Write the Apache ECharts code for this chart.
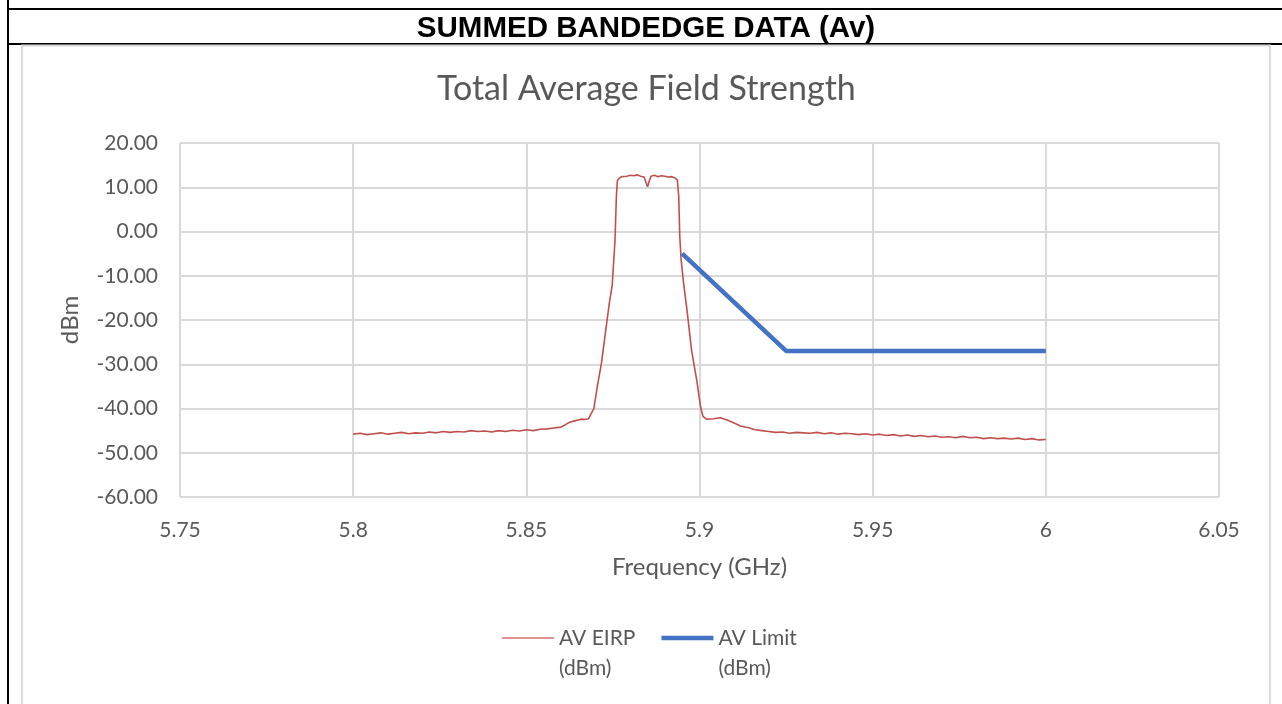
<!DOCTYPE html>
<html>
<head>
<meta charset="utf-8">
<script src="https://cdn.jsdelivr.net/npm/echarts@6/dist/echarts.min.js"></script>
<style>
html,body{margin:0;padding:0;background:#fff;}
#chart{width:1282px;height:704px;}
</style>
</head>
<body>
<div id="chart"></div>
<script>
// ---- data ----
const headerText = 'SUMMED BANDEDGE DATA (Av)';
const titleText = 'Total Average Field Strength';
const xTicks = [5.75, 5.8, 5.85, 5.9, 5.95, 6, 6.05];
const yTicks = [-60, -50, -40, -30, -20, -10, 0, 10, 20];
const seriesNames = ['AV EIRP\n(dBm)', 'AV Limit\n(dBm)'];

const eirpFreq = [
  5.800,5.802,5.804,5.806,5.808,5.810,5.812,5.814,5.816,5.818,
  5.820,5.822,5.824,5.826,5.828,5.830,5.832,5.834,5.836,5.838,
  5.840,5.842,5.844,5.846,5.848,5.850,5.852,5.854,5.856,5.858,
  5.860,5.861,5.862,5.863,5.864,5.865,5.866,5.867,5.868,5.8685,
  5.8688,5.8695,5.8705,5.8717,5.8732,5.8740,5.8748,5.8756,5.8760,5.8763,
  5.8768,5.8775,5.8780,5.8790,5.8800,5.8810,5.8820,5.8830,5.8840,5.8845,
  5.8850,5.8855,5.8860,5.8870,5.8880,5.8890,5.8900,5.8910,5.8920,5.8930,
  5.8936,5.8940,5.8943,5.8947,5.8953,5.8965,5.8977,5.8992,5.9003,5.9010,
  5.902,5.904,5.906,5.908,5.910,5.912,5.914,5.916,5.918,5.920,
  5.922,5.924,5.926,5.928,5.930,5.932,5.934,5.936,5.938,5.940,
  5.942,5.944,5.946,5.948,5.950,5.952,5.954,5.956,5.958,5.960,
  5.962,5.964,5.966,5.968,5.970,5.972,5.974,5.976,5.978,5.980,
  5.982,5.984,5.986,5.988,5.990,5.992,5.994,5.996,5.998,6.000
];
const eirpDbm = [
  -45.8,-45.6,-45.9,-45.7,-45.5,-45.8,-45.6,-45.4,-45.7,-45.5,
  -45.6,-45.3,-45.5,-45.2,-45.4,-45.2,-45.3,-45.0,-45.2,-45.1,
  -45.3,-45.0,-45.2,-44.9,-45.1,-44.8,-45.0,-44.7,-44.6,-44.4,
  -44.2,-43.8,-43.3,-43.0,-42.8,-42.6,-42.4,-42.5,-42.3,-41.5,
  -41.8,-40.0,-35.0,-29.7,-20.7,-16.0,-12.1,-2.0,8.0,11.5,
  12.0,12.4,12.6,12.5,12.7,12.6,12.8,12.5,12.3,11.2,
  10.1,11.4,12.5,12.7,12.4,12.6,12.5,12.3,12.4,12.1,
  11.6,8.0,-1.0,-6.4,-11.0,-18.5,-26.8,-33.6,-39.6,-41.8,
  -42.4,-42.3,-42.1,-42.6,-43.3,-44.0,-44.3,-44.8,-45.0,-45.2,
  -45.4,-45.3,-45.6,-45.4,-45.5,-45.6,-45.4,-45.7,-45.5,-45.8,
  -45.6,-45.7,-45.9,-45.7,-46.0,-45.8,-46.1,-45.9,-46.2,-46.0,
  -46.3,-46.1,-46.4,-46.2,-46.5,-46.4,-46.6,-46.3,-46.6,-46.5,
  -46.8,-46.6,-46.8,-46.7,-46.9,-46.7,-47.0,-46.8,-47.1,-47.0
];
const limitFreq = [5.895, 5.925, 6.000];
const limitDbm = [-5, -27, -27];

// ---- build ----
const eirpData = eirpFreq.map((f, i) => [f, eirpDbm[i]]);
const limitData = limitFreq.map((f, i) => [f, limitDbm[i]]);
const gray = '#D9D9D9';
const txt = '#595959';
const font = 'Lato';
const eirpColor = '#C0504D';
const limitColor = '#4472C4';

const chart = echarts.init(document.getElementById('chart'), null, {renderer: 'canvas'});
chart.setOption({
  animation: false,
  backgroundColor: '#fff',
  title: {
    text: titleText,
    left: 432,
    top: 67,
    textStyle: {fontFamily: font, fontSize: 34, fontWeight: 'normal', color: txt}
  },
  graphic: [
    {type: 'line', shape: {x1: 8, y1: 0, x2: 8, y2: 704}, style: {stroke: '#000', lineWidth: 2}},
    {type: 'line', shape: {x1: 7, y1: 9, x2: 1282, y2: 9}, style: {stroke: '#000', lineWidth: 2}},
    {type: 'line', shape: {x1: 7, y1: 44, x2: 1282, y2: 44}, style: {stroke: '#000', lineWidth: 2}},
    {type: 'rect', shape: {x: 22, y: 45.5, width: 1248, height: 700}, style: {fill: null, stroke: gray, lineWidth: 2}},
    {type: 'text', x: 646, y: 29, style: {text: headerText, fontFamily: 'Liberation Sans', fontWeight: 'bold', fontSize: 29.5, fill: '#000', align: 'center', verticalAlign: 'middle'}}
  ],
  grid: {left: 180, right: 63, top: 143, bottom: 207, containLabel: false},
  legend: {
    data: [
      {name: seriesNames[0], icon: 'path://M0,0M52,60M0,14.25L52,14.25L52,15.75L0,15.75Z', itemStyle: {color: '#D0706C', borderWidth: 0}},
      {name: seriesNames[1], icon: 'path://M0,0M52,60M0,12.75L52,12.75L52,17.25L0,17.25Z', itemStyle: {color: limitColor, borderWidth: 0}}
    ],
    top: 623,
    left: 502,
    padding: 0,
    itemGap: 26,
    itemWidth: 52,
    itemHeight: 60,
    symbolKeepAspect: false,
    textStyle: {fontFamily: font, fontSize: 21, color: txt, lineHeight: 30}
  },
  xAxis: {
    type: 'value',
    min: 5.75, max: 6.05, interval: 0.05,
    name: 'Frequency (GHz)',
    nameLocation: 'middle',
    nameGap: 58,
    nameTextStyle: {fontFamily: font, fontSize: 24, color: txt},
    axisLine: {show: true, lineStyle: {color: gray, width: 2}},
    axisTick: {show: false},
    axisLabel: {margin: 23, fontFamily: font, fontSize: 21, color: txt,
      formatter: v => String(parseFloat(v.toFixed(2)))},
    splitLine: {show: true, lineStyle: {color: gray, width: 2}}
  },
  yAxis: {
    type: 'value',
    min: -60, max: 20, interval: 10,
    name: 'dBm',
    nameLocation: 'middle',
    nameGap: 98,
    nameTextStyle: {fontFamily: font, fontSize: 24, color: txt},
    axisLine: {show: false},
    axisTick: {show: false},
    axisLabel: {margin: 22, fontFamily: font, fontSize: 21, color: txt,
      formatter: v => v.toFixed(2)},
    splitLine: {show: true, lineStyle: {color: gray, width: 2}}
  },
  series: [
    {
      name: seriesNames[0], type: 'line', data: eirpData,
      showSymbol: false, symbol: 'none',
      lineStyle: {color: eirpColor, width: 1.6},
      itemStyle: {color: eirpColor}
    },
    {
      name: seriesNames[1], type: 'line', data: limitData,
      showSymbol: false, symbol: 'none',
      lineStyle: {color: limitColor, width: 4.5},
      itemStyle: {color: limitColor}
    }
  ]
});
</script>
</body>
</html>
